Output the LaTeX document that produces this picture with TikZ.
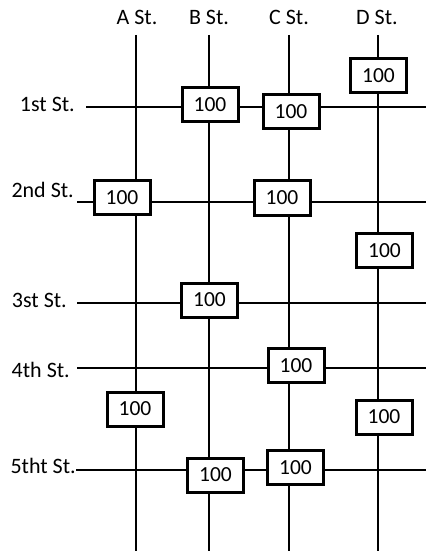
\documentclass[tikz,border=0pt]{standalone}
\usepackage{fontspec}
\setmainfont{Carlito}
\tikzset{
	street/.style={line width=1.1pt},
	countbox/.style={draw,line width=3pt,fill=white,minimum width=56pt,minimum height=34pt,inner sep=0pt,font=\fontsize{21.5}{25}\selectfont},
	stlabel/.style={inner sep=0pt,font=\fontsize{22}{26}\selectfont}
}
\begin{document}
\begin{tikzpicture}[x=1pt,y=-1pt]
			\useasboundingbox (0,0) rectangle (426,553);
			% avenues
			\coordinate (Atop) at (136,35);
			\coordinate (Abot) at (136,551);
			\coordinate (Btop) at (209,35);
			\coordinate (Bbot) at (209,551);
			\coordinate (Ctop) at (289,35);
			\coordinate (Cbot) at (289,551);
			\coordinate (Dtop) at (378,35);
			\coordinate (Dbot) at (378,551);
			\draw[street] (Atop) to (Abot);
			\draw[street] (Btop) to (Bbot);
			\draw[street] (Ctop) to (Cbot);
			\draw[street] (Dtop) to (Dbot);
			% streets
			\coordinate (S1w) at (86,107);
			\coordinate (S1e) at (426,107);
			\coordinate (S2w) at (77,202);
			\coordinate (S2e) at (426,202);
			\coordinate (S3w) at (77,303);
			\coordinate (S3e) at (426,303);
			\coordinate (S4w) at (77,368);
			\coordinate (S4e) at (426,368);
			\coordinate (S5w) at (76,470);
			\coordinate (S5e) at (426,470);
			\draw[street] (S1w) to (S1e);
			\draw[street] (S2w) to (S2e);
			\draw[street] (S3w) to (S3e);
			\draw[street] (S4w) to (S4e);
			\draw[street] (S5w) to (S5e);
			% names
			\node[stlabel,anchor=base] (Aname) at (137,25) {A St.};
			\node[stlabel,anchor=base] (Bname) at (209,25) {B St.};
			\node[stlabel,anchor=base] (Cname) at (289,25) {C St.};
			\node[stlabel,anchor=base] (Dname) at (377,25) {D St.};
			\node[stlabel,anchor=base east] (S1name) at (75,112) {1st St.};
			\node[stlabel,anchor=base east] (S2name) at (74,197) {2nd St.};
			\node[stlabel,anchor=base east] (S3name) at (67,307) {3st St.};
			\node[stlabel,anchor=base east] (S4name) at (70,377) {4th St.};
			\node[stlabel,anchor=base east] (S5name) at (76,473) {5tht St.};
			% counts
			\node[countbox] (B1) at (210,104.5) {100};
			\node[countbox] (C1) at (291,111.5) {100};
			\node[countbox] (D0) at (378.5,75.5) {100};
			\node[countbox] (A2) at (122,197.5) {100};
			\node[countbox] (C2) at (282,198) {100};
			\node[countbox] (D2) at (384.5,250.5) {100};
			\node[countbox] (B3) at (209.5,300) {100};
			\node[countbox] (C4) at (296,365.5) {100};
			\node[countbox] (A5) at (135,409) {100};
			\node[countbox] (D5) at (384,417) {100};
			\node[countbox] (B5) at (215.5,475) {100};
			\node[countbox] (C5) at (295.5,467.5) {100};
		\end{tikzpicture}
\end{document}
